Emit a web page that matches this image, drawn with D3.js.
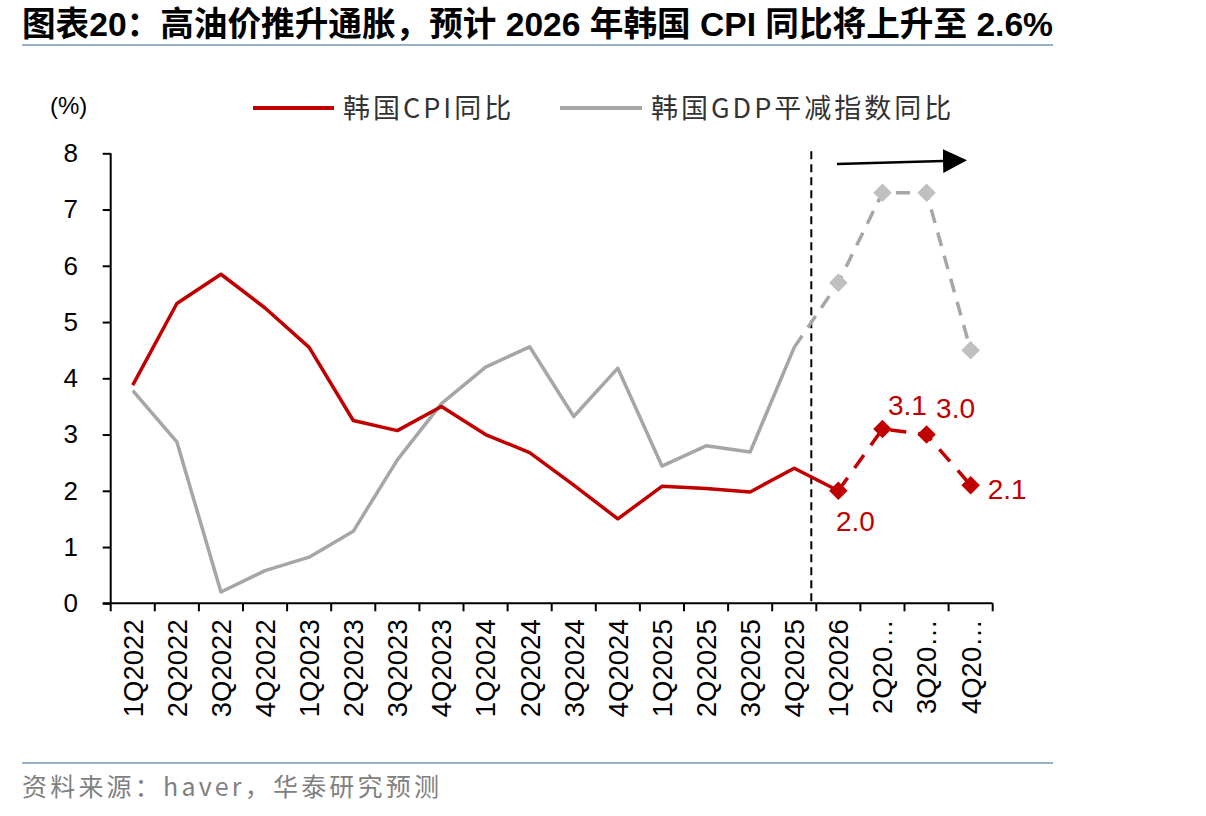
<!DOCTYPE html>
<html>
<head>
<meta charset="utf-8">
<script src="https://cdn.jsdelivr.net/npm/d3@7/dist/d3.min.js"></script>
<style>
  html, body { margin: 0; padding: 0; background: #fff; }
  svg { display: block; }
</style>
</head>
<body>
<script>
// ---------- data ----------
const categories = ["1Q2022","2Q2022","3Q2022","4Q2022","1Q2023","2Q2023","3Q2023","4Q2023",
  "1Q2024","2Q2024","3Q2024","4Q2024","1Q2025","2Q2025","3Q2025","4Q2025",
  "1Q2026","2Q2026","3Q2026","4Q2026"];
const tickLabels = ["1Q2022","2Q2022","3Q2022","4Q2022","1Q2023","2Q2023","3Q2023","4Q2023",
  "1Q2024","2Q2024","3Q2024","4Q2024","1Q2025","2Q2025","3Q2025","4Q2025",
  "1Q2026","2Q20…","3Q20…","4Q20…"];
const cpiValues = [3.88, 5.33, 5.85, 5.25, 4.55, 3.25, 3.07, 3.5,
  3.0, 2.68, 2.1, 1.5, 2.08, 2.04, 1.98, 2.4,
  2.0, 3.1, 3.0, 2.1];
const gdpDeflatorValues = [3.78, 2.87, 0.2, 0.58, 0.82, 1.28, 2.55, 3.55,
  4.2, 4.56, 3.32, 4.18, 2.44, 2.8, 2.69, 4.55,
  5.7, 7.3, 7.3, 4.5];
const cpiForecastStart = 16;   // index of 1Q2026
const gdpDashStart = 15;       // dashed segment starts at 4Q2025
const gdpMarkerStart = 16;
const cpiLabels = ["2.0", "3.1", "3.0", "2.1"];
const yTicks = [0,1,2,3,4,5,6,7,8];
const seriesNames = ["韩国CPI同比", "韩国GDP平减指数同比"];
const titleText = "图表20：高油价推升通胀，预计 2026 年韩国 CPI 同比将上升至 2.6%";
const sourceText = "资料来源：haver，华泰研究预测";

// ---------- layout ----------
const W = 1206, H = 816;
const plot = { left: 110.7, right: 992.7, top: 153.3, bottom: 603.3 };
const RED = "#C00000", GREY = "#A6A6A6", GREY_MK = "#C0C0C0";
const LATIN = "'Liberation Sans', Arial, 'Noto Sans CJK SC', sans-serif";
const CJK = "'Noto Sans CJK SC', 'Liberation Sans', sans-serif";

const svg = d3.select("body").append("svg").attr("width", W).attr("height", H);

// title
svg.append("text").attr("x", 22).attr("y", 36)
  .attr("font-family", "'Liberation Sans', 'Noto Sans CJK SC', sans-serif")
  .attr("font-weight", "bold").attr("font-size", 34).attr("fill", "#000")
  .attr("textLength", 1031).attr("lengthAdjust", "spacingAndGlyphs")
  .text(titleText);
svg.append("line").attr("x1", 22).attr("x2", 1053).attr("y1", 45).attr("y2", 45)
  .attr("stroke", "#9AAFC8").attr("stroke-width", 2);

// bottom rule + source
svg.append("line").attr("x1", 22).attr("x2", 1053).attr("y1", 763).attr("y2", 763)
  .attr("stroke", "#9AAFC8").attr("stroke-width", 2);
svg.append("text").attr("x", 22).attr("y", 796)
  .attr("font-family", CJK).attr("font-size", 25).attr("letter-spacing", 3.2)
  .attr("fill", "#808080").text(sourceText);

// scales
const x = d3.scaleBand().domain(categories).range([plot.left, plot.right]).padding(0);
const y = d3.scaleLinear().domain([0, 8]).range([plot.bottom, plot.top]);
const cx = c => x(c) + x.bandwidth() / 2;

// y axis
const yAxis = svg.append("g").attr("transform", `translate(${plot.left},0)`)
  .call(d3.axisLeft(y).tickValues(yTicks).tickSize(8).tickPadding(20).tickFormat(d3.format("d")));
yAxis.select(".domain").attr("stroke", "#000").attr("stroke-width", 2).attr("d", `M0,${plot.top}V${plot.bottom}`);
yAxis.selectAll(".tick line").attr("stroke", "#000").attr("stroke-width", 2);
yAxis.selectAll(".tick text").attr("font-family", LATIN).attr("font-size", 26).attr("fill", "#000")
  .attr("text-anchor", "middle").attr("x", -40);

// x axis
const boundaries = categories.map(c => x(c)).concat([plot.right]);
const xAxisG = svg.append("g").attr("transform", `translate(0,${plot.bottom})`);
xAxisG.append("line").attr("x1", plot.left - 8).attr("x2", plot.right).attr("y1", 0).attr("y2", 0)
  .attr("stroke", "#000").attr("stroke-width", 2);
xAxisG.selectAll("line.tk").data(boundaries).enter().append("line").attr("class", "tk")
  .attr("x1", d => d).attr("x2", d => d).attr("y1", 0).attr("y2", 8)
  .attr("stroke", "#000").attr("stroke-width", 2);
xAxisG.selectAll("text.lbl").data(categories).enter().append("text").attr("class", "lbl")
  .attr("transform", d => `translate(${cx(d)},16) rotate(-90)`)
  .attr("text-anchor", "end").attr("dy", "0.36em")
  .attr("font-family", LATIN).attr("font-size", 27.5).attr("fill", "#000")
  .text((d, i) => tickLabels[i]);

// (%) unit
svg.append("text").attr("x", 50).attr("y", 114).attr("font-family", LATIN)
  .attr("font-size", 24).attr("fill", "#000").text("(%)");

// legend
const legend = svg.append("g");
legend.append("line").attr("x1", 253).attr("x2", 334).attr("y1", 108).attr("y2", 108)
  .attr("stroke", RED).attr("stroke-width", 4);
legend.append("text").attr("x", 343).attr("y", 118).attr("font-family", CJK)
  .attr("font-size", 27).attr("letter-spacing", 3).attr("fill", "#333").text(seriesNames[0]);
legend.append("line").attr("x1", 560).attr("x2", 642).attr("y1", 108).attr("y2", 108)
  .attr("stroke", GREY).attr("stroke-width", 4);
legend.append("text").attr("x", 651).attr("y", 118).attr("font-family", CJK)
  .attr("font-size", 27).attr("letter-spacing", 3).attr("fill", "#333").text(seriesNames[1]);

// divider dashed line
const divX = x(categories[cpiForecastStart]) - 5;
svg.append("line").attr("x1", divX).attr("x2", divX).attr("y1", plot.top - 2).attr("y2", plot.bottom)
  .attr("stroke", "#000").attr("stroke-width", 2).attr("stroke-dasharray", "8,5");

// lines
const line = d3.line().x(d => cx(d.c)).y(d => y(d.v));
const cpi = categories.map((c, i) => ({ c, v: cpiValues[i], i }));
const gdp = categories.map((c, i) => ({ c, v: gdpDeflatorValues[i], i }));

svg.append("path").datum(gdp.slice(0, gdpDashStart + 1)).attr("d", line)
  .attr("fill", "none").attr("stroke", GREY).attr("stroke-width", 3.5).attr("stroke-linejoin", "round");
svg.append("path").datum(gdp.slice(gdpDashStart)).attr("d", line)
  .attr("fill", "none").attr("stroke", GREY).attr("stroke-width", 3.5).attr("stroke-dasharray", "14,10");

svg.append("path").datum(cpi.slice(0, cpiForecastStart + 1)).attr("d", line)
  .attr("fill", "none").attr("stroke", RED).attr("stroke-width", 3.5).attr("stroke-linejoin", "round");
svg.append("path").datum(cpi.slice(cpiForecastStart)).attr("d", line)
  .attr("fill", "none").attr("stroke", RED).attr("stroke-width", 3.5).attr("stroke-dasharray", "16,12");

// markers
const diamond = d3.symbol().type(d3.symbolDiamond2).size(220);
svg.selectAll("path.gmk").data(gdp.slice(gdpMarkerStart)).enter().append("path").attr("class", "gmk")
  .attr("d", diamond).attr("transform", d => `translate(${cx(d.c)},${y(d.v)})`).attr("fill", GREY_MK);
svg.selectAll("path.cmk").data(cpi.slice(cpiForecastStart)).enter().append("path").attr("class", "cmk")
  .attr("d", diamond).attr("transform", d => `translate(${cx(d.c)},${y(d.v)})`).attr("fill", RED);

// data labels
const labelOffsets = [[17, 40, "middle"], [25, -14, "middle"], [29, -17, "middle"], [17, 14, "start"]];
svg.selectAll("text.dl").data(cpi.slice(cpiForecastStart)).enter().append("text").attr("class", "dl")
  .attr("x", (d, k) => cx(d.c) + labelOffsets[k][0])
  .attr("y", (d, k) => y(d.v) + labelOffsets[k][1])
  .attr("text-anchor", (d, k) => labelOffsets[k][2])
  .attr("font-family", LATIN).attr("font-size", 28).attr("fill", RED)
  .text((d, k) => cpiLabels[k]);

// arrow
const defs = svg.append("defs");
defs.append("marker").attr("id", "ah").attr("viewBox", "0 0 24 24").attr("refX", 0).attr("refY", 12)
  .attr("markerWidth", 24).attr("markerHeight", 24).attr("markerUnits", "userSpaceOnUse").attr("orient", "auto")
  .append("path").attr("d", "M0,0L24,12L0,24Z").attr("fill", "#000");
svg.append("line").attr("x1", 837).attr("y1", 164).attr("x2", 943).attr("y2", 161)
  .attr("stroke", "#000").attr("stroke-width", 2.5).attr("marker-end", "url(#ah)");
</script>
</body>
</html>
